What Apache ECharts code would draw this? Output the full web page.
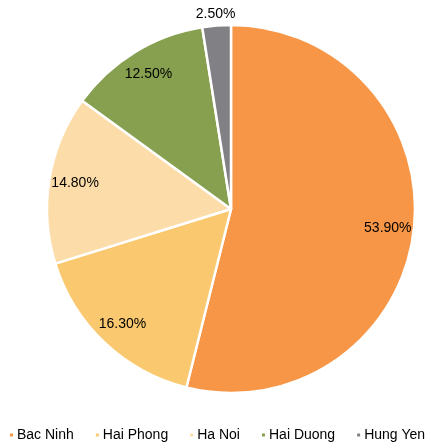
<!DOCTYPE html>
<html>
<head>
<meta charset="utf-8">
<script src="https://cdn.jsdelivr.net/npm/echarts@6/dist/echarts.min.js"></script>
<style>
  html, body { margin: 0; padding: 0; background: #fff; }
  #chart { width: 431px; height: 448px; }
</style>
</head>
<body>
<div id="chart"></div>
<script>
// Share by province (%)
const provinces = ['Bac Ninh', 'Hai Phong', 'Ha Noi', 'Hai Duong', 'Hung Yen'];
const shares = [53.9, 16.3, 14.8, 12.5, 2.5];
const colors = ['#F79646', '#F9C86F', '#FCDDA9', '#86A04F', '#808085'];

const chart = echarts.init(document.getElementById('chart'));

const slices = provinces.map((name, i) => ({ name, value: shares[i] }));

const center = [231, 209];
const outerR = 184;
const smallShare = 5; // slices below this get their label outside the pie

const labelStyle = {
  formatter: p => p.value.toFixed(2) + '%',
  fontFamily: 'Liberation Sans, Arial, sans-serif',
  fontSize: 14,
  color: '#000',
  position: 'inside'
};

// transparent ring whose mid-radius carries the labels of the chosen slices
function labelRing(radius, pick) {
  return {
    type: 'pie',
    center,
    radius,
    startAngle: 90,
    clockwise: true,
    silent: true,
    data: slices.map(d => ({
      name: d.name,
      value: d.value,
      label: { show: pick(d) }
    })),
    itemStyle: { color: 'rgba(0,0,0,0)', borderWidth: 0 },
    label: labelStyle,
    labelLine: { show: false }
  };
}

chart.setOption({
  animation: false,
  color: colors,
  legend: {
    data: provinces,
    top: 428,
    left: 8,
    width: 431,
    padding: 0,
    icon: 'rect',
    itemWidth: 5,
    itemHeight: 5,
    itemGap: 20,
    textStyle: {
      fontFamily: 'Liberation Sans, Arial, sans-serif',
      fontSize: 14,
      color: '#000',
      padding: [3, 0, 0, -2]
    }
  },
  series: [
    {
      // filled slices
      type: 'pie',
      center,
      radius: [0, outerR],
      startAngle: 90,
      clockwise: true,
      data: slices,
      label: { show: false },
      labelLine: { show: false },
      itemStyle: { borderColor: '#fff', borderWidth: 2.5 },
      silent: true
    },
    labelRing([126, outerR], d => d.value >= smallShare),
    labelRing([outerR, outerR + 17], d => d.value < smallShare)
  ]
});
</script>
</body>
</html>
